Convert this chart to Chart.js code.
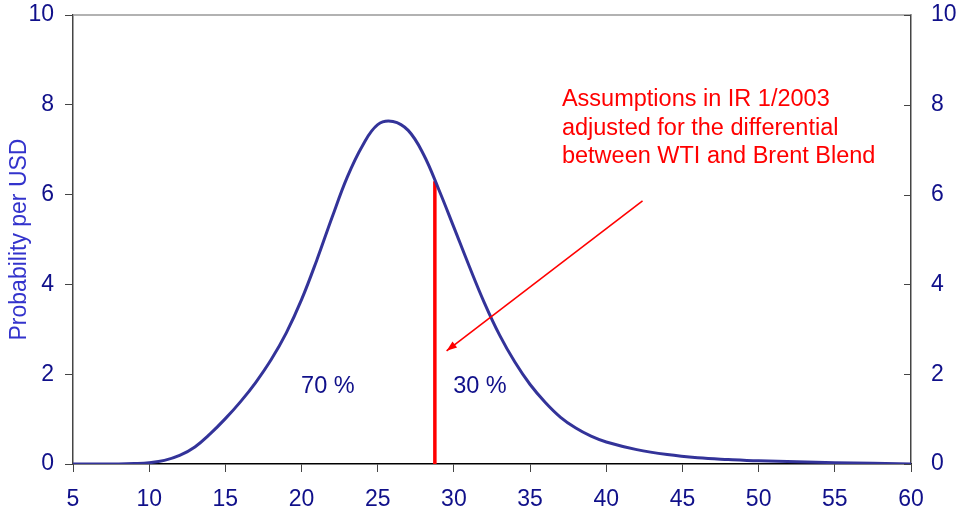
<html><head>
  <title>Oil price probability</title>
  <script src="https://cdn.jsdelivr.net/npm/chart.js"></script>
  <style>
    body { margin: 0; background: #fff; }
    #wrap { width: 963px; height: 512px; }
  </style>
</head>
<body>
  <div id="wrap"><canvas id="densityChart" width="963" height="512"></canvas></div>

  <script>
    // oil price (USD) and probability density
    const prices = [5, 6, 7, 8, 9, 10, 11, 12, 13, 14, 15, 16, 17, 18, 19, 20, 21, 22, 23, 24, 25, 26,
                    27, 28, 29, 30, 31, 32, 33, 34, 35, 36, 37, 38, 39, 40, 42, 44, 46, 48, 50, 55, 60];
    const probability = [0, 0, 0, 0, 0.01, 0.03, 0.08, 0.19, 0.38, 0.67, 1.01, 1.39, 1.82, 2.32, 2.92, 3.66, 4.54, 5.49, 6.39, 7.09, 7.56, 7.63,
                         7.43, 6.9, 6.12, 5.27, 4.41, 3.59, 2.87, 2.27, 1.77, 1.37, 1.04, 0.8, 0.62, 0.49, 0.32, 0.21, 0.14, 0.1, 0.07, 0.03, 0];

    // assumption marker and its share labels
    const markerPrice = 28.75;
    const markerTop = 6.3;
    const shareLabels = ['70 %', '30 %'];
    const noteLines = ['Assumptions in IR 1/2003', 'adjusted for the differential', 'between WTI and Brent Blend'];

    const navy = '#10108a';
    const tickFont = { family: 'Liberation Sans, Arial, sans-serif', size: 23 };

    const curve = prices.map((p, i) => ({ x: p, y: probability[i] }));

    // no extra room for the first/last tick label, chart area is set by layout padding
    const noPad = s => { s.paddingTop = 0; s.paddingBottom = 0; };

    // top border, inward ticks on the right axis, text and arrow
    const extras = {
      id: 'extras',
      afterDraw(chart) {
        const ctx = chart.ctx;
        const xs = chart.scales.x, ys = chart.scales.y, area = chart.chartArea;
        ctx.save();
        ctx.strokeStyle = '#999';
        ctx.lineWidth = 1.5;
        ctx.beginPath();
        ctx.moveTo(area.left, area.top);
        ctx.lineTo(area.right, area.top);
        ctx.stroke();

        ctx.strokeStyle = '#444';
        ctx.lineWidth = 1;
        chart.scales.y2.ticks.forEach(t => {
          const py = Math.round(chart.scales.y2.getPixelForValue(t.value)) + 0.5;
          ctx.beginPath();
          ctx.moveTo(area.right - 7, py);
          ctx.lineTo(area.right, py);
          ctx.stroke();
        });

        ctx.font = '23.5px Liberation Sans, Arial, sans-serif';
        ctx.textBaseline = 'middle';
        ctx.fillStyle = navy;
        ctx.textAlign = 'center';
        ctx.fillText(shareLabels[0], xs.getPixelForValue(21.73), ys.getPixelForValue(1.72));
        ctx.fillText(shareLabels[1], xs.getPixelForValue(31.71), ys.getPixelForValue(1.72));

        ctx.fillStyle = '#ff0000';
        ctx.textAlign = 'left';
        const noteY = [8.11, 7.47, 6.84];
        noteLines.forEach((line, i) => {
          ctx.fillText(line, xs.getPixelForValue(37.09), ys.getPixelForValue(noteY[i]));
        });

        // arrow pointing at the marker
        const x0 = xs.getPixelForValue(42.38), y0 = ys.getPixelForValue(5.86);
        const x1 = xs.getPixelForValue(29.52), y1 = ys.getPixelForValue(2.52);
        ctx.strokeStyle = '#ff0000';
        ctx.lineWidth = 1.6;
        ctx.beginPath();
        ctx.moveTo(x0, y0);
        ctx.lineTo(x1, y1);
        ctx.stroke();
        const ang = Math.atan2(y1 - y0, x1 - x0);
        ctx.fillStyle = '#ff0000';
        ctx.beginPath();
        ctx.moveTo(x1, y1);
        ctx.lineTo(x1 - 11 * Math.cos(ang - 0.35), y1 - 11 * Math.sin(ang - 0.35));
        ctx.lineTo(x1 - 11 * Math.cos(ang + 0.35), y1 - 11 * Math.sin(ang + 0.35));
        ctx.closePath();
        ctx.fill();
        ctx.restore();
      }
    };

    new Chart(document.getElementById('densityChart'), {
      type: 'line',
      data: {
        datasets: [{
          data: curve,
          borderColor: '#333399',
          borderWidth: 3,
          pointRadius: 0,
          fill: false,
          tension: 0.4,
          yAxisID: 'y'
        }, {
          data: [{ x: markerPrice, y: 0 }, { x: markerPrice, y: markerTop }],
          borderColor: '#ff0000',
          borderWidth: 3.5,
          pointRadius: 0,
          yAxisID: 'y'
        }]
      },
      options: {
        responsive: false,
        animation: false,
        layout: { padding: { top: 15, left: 0, right: 0, bottom: 0 } },
        plugins: { legend: { display: false }, tooltip: { enabled: false } },
        scales: {
          x: {
            type: 'linear',
            min: 5, max: 60,
            afterFit: s => { s.height = 48; },
            grid: { drawOnChartArea: false, tickLength: 8, color: '#444' },
            border: { color: '#000', width: 1.5 },
            ticks: { stepSize: 5, color: navy, font: tickFont, padding: 14, maxRotation: 0 }
          },
          y: {
            position: 'left',
            min: 0, max: 10,
            afterFit: s => { s.width = 73; noPad(s); },
            grid: { drawOnChartArea: false, tickLength: 8, color: '#444' },
            border: { color: '#444', width: 1.5 },
            ticks: { stepSize: 2, color: navy, font: tickFont, padding: 11 },
            title: {
              display: true,
              text: 'Probability per USD',
              color: '#3333cc',
              font: { family: 'Liberation Sans, Arial, sans-serif', size: 23 },
              padding: { top: 6, bottom: 0 }
            }
          },
          y2: {
            position: 'right',
            min: 0, max: 10,
            afterFit: s => { s.width = 52; noPad(s); },
            grid: { drawOnChartArea: false, drawTicks: false },
            border: { color: '#444', width: 1.5 },
            ticks: { stepSize: 2, color: navy, font: tickFont, padding: 20 }
          }
        }
      },
      plugins: [extras]
    });
  </script>
</body></html>
